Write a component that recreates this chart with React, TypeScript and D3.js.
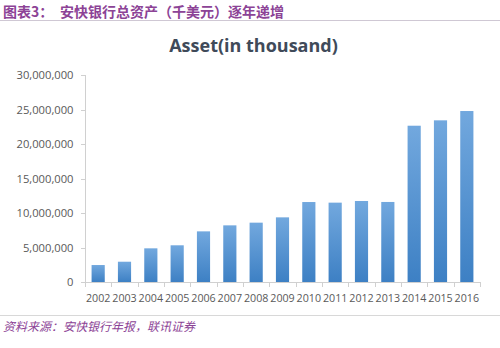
import React from "react";
import * as d3 from "d3";

const years = ["2002","2003","2004","2005","2006","2007","2008","2009","2010","2011","2012","2013","2014","2015","2016"];
const assets = [2460000, 2940000, 4880000, 5320000, 7340000, 8210000, 8600000, 9370000, 11590000, 11500000, 11740000, 11600000, 22650000, 23430000, 24780000];
const yTicks = [0, 5000000, 10000000, 15000000, 20000000, 25000000, 30000000];

const headerTitle = "图表3：";
const headerText = "安快银行总资产（千美元）逐年递增";
const chartTitle = "Asset(in thousand)";
const sourceText = "资料来源：安快银行年报，联讯证券";

export default function App() {
  const W = 500, H = 348;
  const left = 85, right = 480, top = 75, bottom = 282;
  const x = d3.scaleBand<string>().domain(years).range([left, right]).paddingInner(0.5).paddingOuter(0.25);
  const xb = d3.scaleBand<string>().domain(years).range([left, right]);
  const y = d3.scaleLinear().domain([0, 30000000]).range([bottom, top]);
  const fmt = d3.format(",");
  const font = "'Open Sans', Lato, sans-serif";
  const cjk = "'Noto Sans CJK SC', sans-serif";
  return (
    <svg width={W} height={H} style={{ position: "absolute", left: 0, top: 0, background: "#fff" }}>
      <defs>
        <linearGradient id="barg" x1="0" y1="0" x2="0" y2="1">
          <stop offset="0%" stopColor="#72a8de" />
          <stop offset="100%" stopColor="#3d80c4" />
        </linearGradient>
      </defs>
      <text x={3} y={17} fontFamily={cjk} fontWeight="bold" fontSize={14} fill="#8c4396">{headerTitle}</text>
      <text x={60} y={17} fontFamily={cjk} fontWeight="bold" fontSize={14} fill="#8c4396">{headerText}</text>
      <line x1={0} x2={500} y1={20.5} y2={20.5} stroke="#cfc8d4" strokeWidth={1} />
      <text x={253.5} y={51.5} textAnchor="middle" fontFamily={font} fontWeight="bold" fontSize={18} fill="#404a59">{chartTitle}</text>
      {yTicks.map((t) => (
        <g key={t}>
          <line x1={81} x2={85} y1={Math.round(y(t)) + 0.5} y2={Math.round(y(t)) + 0.5} stroke="#d0d0d0" />
          <text x={73.5} y={y(t)} dy="0.36em" textAnchor="end" fontFamily={font} fontSize={11.2} fill="#595959">{fmt(t)}</text>
        </g>
      ))}
      {years.map((yr, i) => (
        <rect key={yr} x={x(yr)} y={y(assets[i])} width={x.bandwidth()} height={bottom - y(assets[i])} fill="url(#barg)" />
      ))}
      <line x1={85.5} x2={85.5} y1={top} y2={bottom} stroke="#d0d0d0" />
      <line x1={left} x2={right} y1={bottom + 0.5} y2={bottom + 0.5} stroke="#d0d0d0" />
      {years.concat(["end"]).map((yr, i) => {
        const px = Math.round(left + i * xb.bandwidth()) + 0.5;
        return <line key={"t" + i} x1={px} x2={px} y1={bottom} y2={bottom + 5} stroke="#d0d0d0" />;
      })}
      {years.map((yr) => (
        <text key={"l" + yr} x={(xb(yr) as number) + xb.bandwidth() / 2} y={298} dy="0.36em" textAnchor="middle" fontFamily={font} fontSize={10.7} fill="#595959">{yr}</text>
      ))}
      <line x1={0} x2={500} y1={315.5} y2={315.5} stroke="#d8d8d8" strokeWidth={1} />
      <text x={3} y={331} fontFamily={cjk} fontStyle="italic" fontSize={12} fill="#8c4396">{sourceText}</text>
    </svg>
  );
}
